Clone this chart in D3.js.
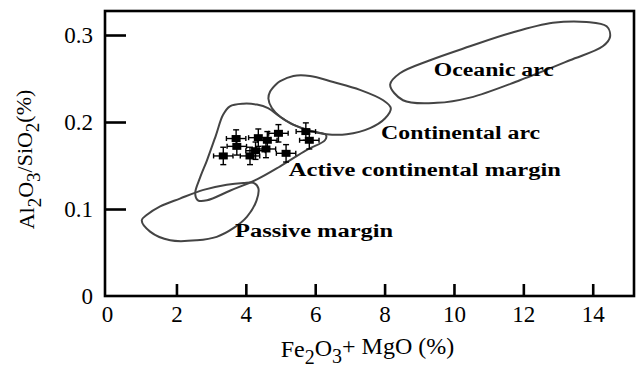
<!DOCTYPE html>
<html>
<head>
<meta charset="utf-8">
<script src="https://cdn.jsdelivr.net/npm/d3@7"></script>
<style>
  html, body { margin: 0; padding: 0; background: #fff; }
  svg { display: block; }
  text { font-family: "Liberation Serif", "Times New Roman", serif; fill: #000; }
</style>
</head>
<body>
<svg id="chart" width="637" height="370"></svg>
<script>
// ---------- data ----------
const xTicks = [0, 2, 4, 6, 8, 10, 12, 14];
const xTickLabels = ["0", "2", "4", "6", "8", "10", "12", "14"];
const yTicks = [0, 0.1, 0.2, 0.3];
const yTickLabels = ["0", "0.1", "0.2", "0.3"];

// samples (Fe2O3+MgO, Al2O3/SiO2) with error bars
const sampleX = [3.35, 3.74, 3.72, 4.12, 4.28, 4.36, 4.62, 4.58, 4.94, 5.16, 5.73, 5.83];
const sampleY = [0.161, 0.172, 0.181, 0.161, 0.167, 0.182, 0.179, 0.169, 0.187, 0.164, 0.189, 0.179];
const sampleXErr = [0.28, 0.28, 0.28, 0.28, 0.28, 0.28, 0.28, 0.28, 0.28, 0.28, 0.28, 0.28];
const sampleYErr = [0.010, 0.010, 0.010, 0.010, 0.010, 0.010, 0.010, 0.010, 0.010, 0.010, 0.010, 0.010];

// tectonic setting fields (outline vertices, data units)
const oceanicArc = [
  [8.16, 0.243], [8.53, 0.225], [9.51, 0.222], [10.46, 0.228], [11.90, 0.248],
  [13.34, 0.271], [14.29, 0.287], [14.50, 0.298], [14.40, 0.310], [13.82, 0.315],
  [12.85, 0.314], [11.61, 0.302], [10.46, 0.287], [9.31, 0.271], [8.44, 0.256]
];
const continentalArc = [
  [4.89, 0.244], [4.70, 0.235], [4.65, 0.227], [4.75, 0.216], [4.99, 0.206],
  [5.37, 0.197], [5.85, 0.190], [6.33, 0.186], [6.91, 0.186], [7.58, 0.193],
  [8.01, 0.204], [8.18, 0.216], [7.96, 0.225], [7.29, 0.237], [6.52, 0.246],
  [5.85, 0.253], [5.37, 0.253], [4.99, 0.247]
];
const activeMargin = [
  [3.54, 0.218], [3.92, 0.221], [4.32, 0.220], [4.64, 0.216], [4.99, 0.206],
  [5.36, 0.197], [5.94, 0.189], [6.31, 0.185], [6.28, 0.179], [5.76, 0.168],
  [4.99, 0.149], [4.32, 0.134], [3.54, 0.121], [2.88, 0.110], [2.62, 0.110],
  [2.54, 0.118], [2.68, 0.136], [2.88, 0.156], [3.14, 0.185], [3.34, 0.208]
];
const passiveMargin = [
  [1.00, 0.087], [1.24, 0.074], [1.82, 0.064], [2.59, 0.064], [3.16, 0.068],
  [3.64, 0.078], [4.03, 0.091], [4.31, 0.110], [4.36, 0.124], [4.22, 0.130],
  [3.93, 0.130], [3.45, 0.128], [2.78, 0.122], [2.10, 0.112], [1.53, 0.103],
  [1.14, 0.093]
];
const fieldNames = ["Oceanic arc", "Continental arc", "Active continental margin", "Passive margin"];
const fieldLabelX = [9.42, 7.90, 5.24, 3.69];
const fieldLabelY = [0.253, 0.180, 0.138, 0.068];

// ---------- layout ----------
const svg = d3.select("#chart");
const x = d3.scaleLinear().domain([-0.06, 15.19]).range([105, 634]);
const y = d3.scaleLinear().domain([0, 0.3276]).range([296, 11]);

// fields
const fields = [oceanicArc, continentalArc, activeMargin, passiveMargin];
const line = d3.line()
  .x(d => x(d[0])).y(d => y(d[1]))
  .curve(d3.curveCatmullRomClosed.alpha(0.5));
svg.append("g").selectAll("path").data(fields).join("path")
  .attr("d", line)
  .attr("fill", "none")
  .attr("stroke", "#444")
  .attr("stroke-width", 2);

// field labels
const labelWidths = [120, 159, 272, 158];
svg.append("g").selectAll("text").data(fieldNames).join("text")
  .attr("x", (d, i) => x(fieldLabelX[i]))
  .attr("y", (d, i) => y(fieldLabelY[i]))
  .attr("font-size", 18)
  .attr("font-weight", "bold")
  .attr("textLength", (d, i) => labelWidths[i])
  .attr("lengthAdjust", "spacingAndGlyphs")
  .attr("fill", "#111")
  .text(d => d);

// error bars + markers
const pts = sampleX.map((v, i) => ({ x: v, y: sampleY[i], ex: sampleXErr[i], ey: sampleYErr[i] }));
const eb = svg.append("g").attr("stroke", "#000").attr("stroke-width", 1.4);
pts.forEach(p => {
  const cx = x(p.x), cy = y(p.y);
  const x0 = x(p.x - p.ex), x1 = x(p.x + p.ex);
  const y0 = y(p.y - p.ey), y1 = y(p.y + p.ey);
  eb.append("line").attr("x1", x0).attr("x2", x1).attr("y1", cy).attr("y2", cy);
  eb.append("line").attr("x1", cx).attr("x2", cx).attr("y1", y0).attr("y2", y1);
  eb.append("line").attr("x1", x0).attr("x2", x0).attr("y1", cy - 2.5).attr("y2", cy + 2.5);
  eb.append("line").attr("x1", x1).attr("x2", x1).attr("y1", cy - 2.5).attr("y2", cy + 2.5);
  eb.append("line").attr("x1", cx - 3).attr("x2", cx + 3).attr("y1", y0).attr("y2", y0);
  eb.append("line").attr("x1", cx - 3).attr("x2", cx + 3).attr("y1", y1).attr("y2", y1);
});
svg.append("g").selectAll("rect").data(pts).join("rect")
  .attr("x", d => x(d.x) - 4.5).attr("y", d => y(d.y) - 3.5)
  .attr("width", 9).attr("height", 7)
  .attr("fill", "#000");

// axes
const xAxis = d3.axisBottom(x).tickValues(xTicks)
  .tickFormat((d, i) => xTickLabels[i]).tickSize(-12).tickPadding(10);
const gx = svg.append("g").attr("transform", "translate(0,296)").call(xAxis);
gx.select(".domain").remove();
gx.selectAll(".tick line").attr("stroke", "#000").attr("stroke-width", 2.6)
  .attr("opacity", d => d === 0 ? 0 : 1);
gx.selectAll(".tick text").attr("font-size", 23);

const yAxis = d3.axisLeft(y).tickValues(yTicks)
  .tickFormat((d, i) => yTickLabels[i]).tickSize(-21).tickPadding(12);
const gy = svg.append("g").attr("transform", "translate(105,0)").call(yAxis);
gy.select(".domain").remove();
gy.selectAll(".tick line").attr("stroke", "#000").attr("stroke-width", 2.6)
  .attr("opacity", d => d === 0 ? 0 : 1);
gy.selectAll(".tick text").attr("font-size", 23);

// frame
const [xl, xr] = x.range();
const [yb, yt] = y.range();
svg.append("rect")
  .attr("x", xl).attr("y", yt).attr("width", xr - xl).attr("height", yb - yt)
  .attr("fill", "none").attr("stroke", "#000").attr("stroke-width", 2.6);

// axis titles
const xt = svg.append("text").attr("x", (xl + xr) / 2 - 2).attr("y", 357)
  .attr("text-anchor", "middle").attr("font-size", 24);
xt.append("tspan").text("Fe");
xt.append("tspan").attr("dy", "0.35em").attr("font-size", 20).text("2");
xt.append("tspan").attr("dy", "-0.35em").text("O");
xt.append("tspan").attr("dy", "0.35em").attr("font-size", 20).text("3");
xt.append("tspan").attr("dy", "-0.35em").text("+ MgO (%)");

const yt2 = svg.append("text")
  .attr("transform", `translate(34,${(yb + yt) / 2 + 6}) rotate(-90)`)
  .attr("text-anchor", "middle").attr("font-size", 22);
yt2.append("tspan").text("Al");
yt2.append("tspan").attr("dy", "0.35em").attr("font-size", 19).text("2");
yt2.append("tspan").attr("dy", "-0.35em").text("O");
yt2.append("tspan").attr("dy", "0.35em").attr("font-size", 19).text("3");
yt2.append("tspan").attr("dy", "-0.35em").text("/SiO");
yt2.append("tspan").attr("dy", "0.35em").attr("font-size", 19).text("2");
yt2.append("tspan").attr("dy", "-0.35em").text("(%)");
</script>
</body>
</html>
